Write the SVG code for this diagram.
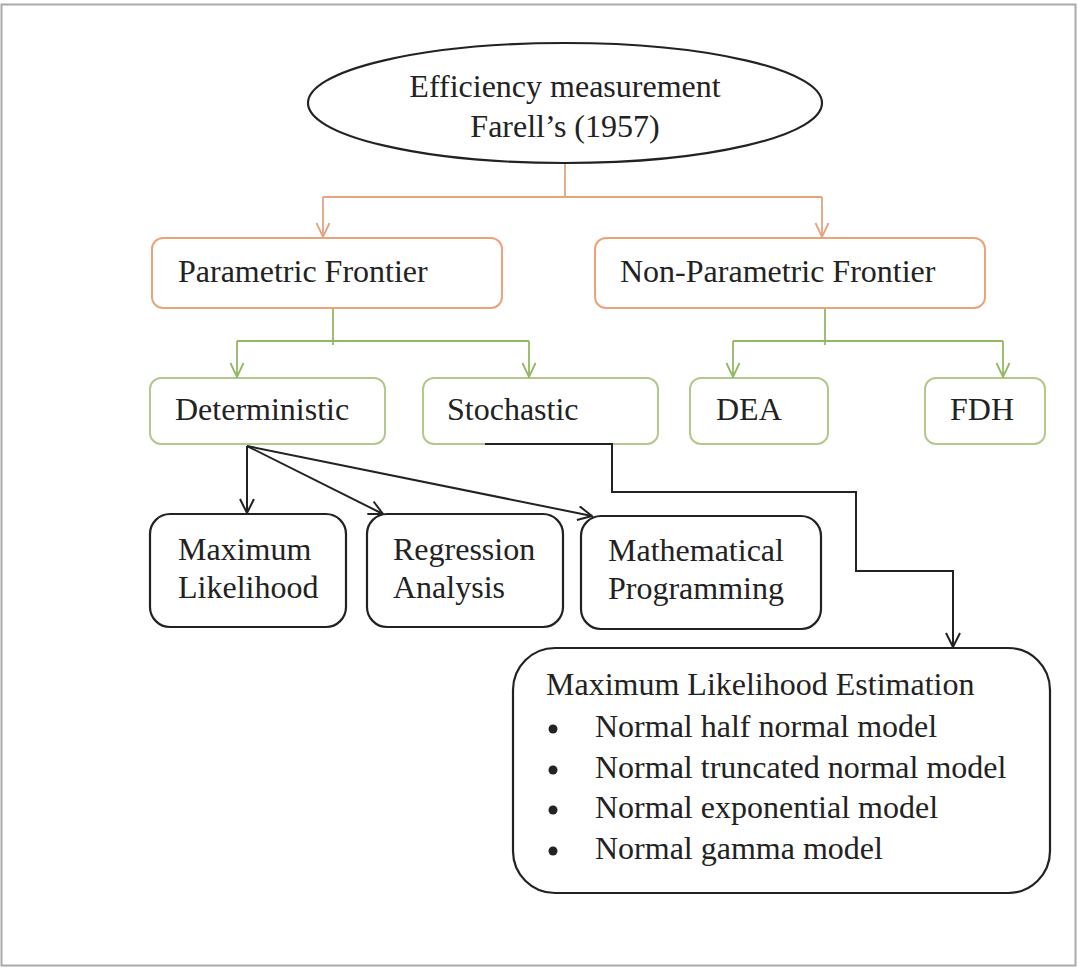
<svg xmlns="http://www.w3.org/2000/svg" width="1078" height="968" viewBox="0 0 1078 968">
  <style>
    text { font-family: "Liberation Serif", "Times New Roman", serif; font-size: 32px; fill: #222; }
    .orange { fill: #fff; stroke: #eba47a; stroke-width: 2; }
    .green { fill: #fff; stroke: #b3c98c; stroke-width: 2; }
    .black { fill: #fff; stroke: #222; stroke-width: 2.2; }
    .c-or { fill: none; stroke: #e3a47e; stroke-width: 1.8; }
    .c-gr { fill: none; stroke: #93b764; stroke-width: 1.8; }
    .c-bk { fill: none; stroke: #222; stroke-width: 2; }
  </style>
  <defs>
    <marker id="arrOr" viewBox="0 0 16 16" refX="15" refY="8" markerWidth="16" markerHeight="16" markerUnits="userSpaceOnUse" orient="auto">
      <path d="M1,1.5 L15,8 L1,14.5" fill="none" stroke="#e3a47e" stroke-width="1.8"/>
    </marker>
    <marker id="arrGr" viewBox="0 0 16 16" refX="15" refY="8" markerWidth="16" markerHeight="16" markerUnits="userSpaceOnUse" orient="auto">
      <path d="M1,1.5 L15,8 L1,14.5" fill="none" stroke="#93b764" stroke-width="1.8"/>
    </marker>
    <marker id="arrBk" viewBox="0 0 16 16" refX="15" refY="8" markerWidth="16" markerHeight="16" markerUnits="userSpaceOnUse" orient="auto">
      <path d="M1,1 L15,8 L1,15" fill="none" stroke="#222" stroke-width="2"/>
    </marker>
  </defs>

  <!-- outer frame -->
  <rect x="1.5" y="4.5" width="1074" height="961" fill="#fff" stroke="#aaa" stroke-width="2"/>

  <g id="root">
    <ellipse cx="565" cy="103" rx="257" ry="60" fill="#fff" stroke="#222" stroke-width="2.2"/>
    <text x="565" y="97" text-anchor="middle">Efficiency measurement</text>
    <text x="565" y="137" text-anchor="middle">Farell’s (1957)</text>
  </g>

  <g id="parametric">
    <rect class="orange" x="152" y="238" width="350" height="70" rx="11"/>
    <text x="178" y="282">Parametric Frontier</text>
  </g>
  <g id="nonparametric">
    <rect class="orange" x="595" y="238" width="390" height="70" rx="11"/>
    <text x="620" y="282">Non-Parametric Frontier</text>
  </g>

  <g id="deterministic">
    <rect class="green" x="150" y="378" width="235" height="66" rx="11"/>
    <text x="175" y="420">Deterministic</text>
  </g>
  <g id="stochastic">
    <rect class="green" x="423" y="378" width="235" height="66" rx="11"/>
    <text x="447" y="420">Stochastic</text>
  </g>
  <g id="dea">
    <rect class="green" x="690" y="378" width="138" height="66" rx="11"/>
    <text x="716" y="420">DEA</text>
  </g>
  <g id="fdh">
    <rect class="green" x="925" y="378" width="120" height="66" rx="11"/>
    <text x="950" y="420">FDH</text>
  </g>

  <g id="max-likelihood">
    <rect class="black" x="150" y="514" width="196" height="113" rx="20"/>
    <text x="178" y="560">Maximum</text>
    <text x="178" y="598">Likelihood</text>
  </g>
  <g id="regression">
    <rect class="black" x="367" y="514" width="196" height="113" rx="20"/>
    <text x="393" y="560">Regression</text>
    <text x="393" y="598">Analysis</text>
  </g>
  <g id="math-programming">
    <rect class="black" x="581" y="516" width="240" height="113" rx="20"/>
    <text x="608" y="561">Mathematical</text>
    <text x="608" y="599">Programming</text>
  </g>

  <g id="mle">
    <rect class="black" x="513" y="648" width="537" height="245" rx="42"/>
    <text x="546" y="695">Maximum Likelihood Estimation</text>
    <circle cx="553" cy="729" r="4.5" fill="#222"/>
    <text x="595" y="737">Normal half normal model</text>
    <circle cx="553" cy="770" r="4.5" fill="#222"/>
    <text x="595" y="778">Normal truncated normal model</text>
    <circle cx="553" cy="810" r="4.5" fill="#222"/>
    <text x="595" y="818">Normal exponential model</text>
    <circle cx="553" cy="851" r="4.5" fill="#222"/>
    <text x="595" y="859">Normal gamma model</text>
  </g>

  <!-- connectors, drawn over the node outlines -->
  <g id="connectors">
    <path class="c-or" d="M565,164 V197"/>
    <path class="c-or" d="M323,197 H822"/>
    <path class="c-or" d="M323,197 V237" marker-end="url(#arrOr)"/>
    <path class="c-or" d="M822,197 V237" marker-end="url(#arrOr)"/>

    <path class="c-gr" d="M333,309 V345"/>
    <path class="c-gr" d="M237,341 H529"/>
    <path class="c-gr" d="M237,341 V377" marker-end="url(#arrGr)"/>
    <path class="c-gr" d="M529,341 V377" marker-end="url(#arrGr)"/>

    <path class="c-gr" d="M825,309 V345"/>
    <path class="c-gr" d="M733,341 H1003"/>
    <path class="c-gr" d="M733,341 V377" marker-end="url(#arrGr)"/>
    <path class="c-gr" d="M1003,341 V377" marker-end="url(#arrGr)"/>

    <path class="c-bk" d="M247,446 V513" marker-end="url(#arrBk)"/>
    <path class="c-bk" d="M247,446 L383,514" marker-end="url(#arrBk)"/>
    <path class="c-bk" d="M247,446 L592,516" marker-end="url(#arrBk)"/>

    <path class="c-bk" d="M485,444 H612 V492 H856 V571 H953 V647" marker-end="url(#arrBk)"/>
  </g>
</svg>
